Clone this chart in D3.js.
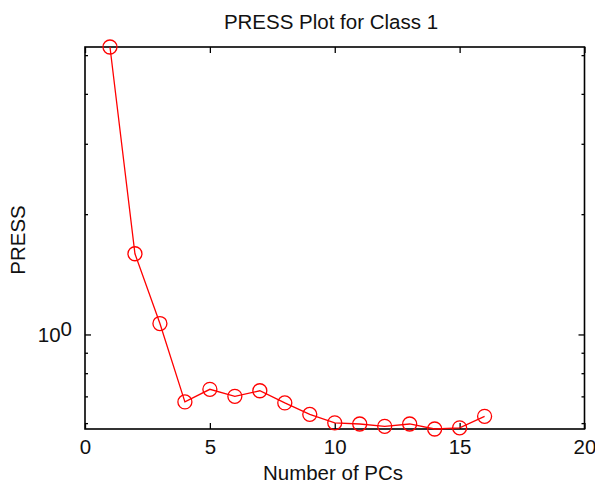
<!DOCTYPE html>
<html>
<head>
<meta charset="utf-8">
<script src="https://cdn.jsdelivr.net/npm/d3@7"></script>
<style>
  html, body { margin: 0; padding: 0; background: #fff; }
  svg { display: block; }
  text { font-family: "Liberation Sans", Arial, sans-serif; fill: #111; }
</style>
</head>
<body>
<svg id="chart" width="595" height="488"></svg>
<script>
// Data
const numPCs = [1, 2, 3, 4, 5, 6, 7, 8, 9, 10, 11, 12, 13, 14, 15, 16];
const pressValues = [5.24, 1.592, 1.065, 0.678, 0.729, 0.700, 0.723, 0.674, 0.631, 0.601, 0.597, 0.589, 0.597, 0.580, 0.584, 0.624];
const xTickValues = [0, 5, 10, 15, 20];
const yMajorTicks = [1];
const yMinorTicks = [0.6, 0.7, 0.8, 0.9, 2, 3, 4, 5];
const titleText = "PRESS Plot for Class 1";
const xLabelText = "Number of PCs";
const yLabelText = "PRESS";

const svg = d3.select("#chart");
const L = 85, R = 584.5, T = 47, B = 429;

const x = d3.scaleLinear().domain([0, 20]).range([L, R]);
const y = d3.scaleLog().domain(d3.extent(pressValues)).range([B, T]);

const fontSize = 20.5;

// Axes
svg.append("g").attr("transform", `translate(0,${B})`)
  .call(d3.axisBottom(x).tickValues(xTickValues).tickSizeInner(-6).tickSizeOuter(0).tickPadding(10).tickFormat(d3.format("d")));
svg.append("g").attr("transform", `translate(0,${T})`)
  .call(d3.axisTop(x).tickValues(xTickValues).tickSizeInner(-6).tickSizeOuter(0).tickFormat(""));

svg.append("g").attr("transform", `translate(${L},0)`)
  .call(d3.axisLeft(y).tickValues(yMinorTicks).tickSizeInner(-3).tickSizeOuter(0).tickFormat(""));
svg.append("g").attr("transform", `translate(${R},0)`)
  .call(d3.axisRight(y).tickValues(yMinorTicks).tickSizeInner(-3).tickSizeOuter(0).tickFormat(""));
svg.append("g").attr("transform", `translate(${R},0)`)
  .call(d3.axisRight(y).tickValues(yMajorTicks).tickSizeInner(-6).tickSizeOuter(0).tickFormat(""));
const gyMajor = svg.append("g").attr("transform", `translate(${L},0)`)
  .call(d3.axisLeft(y).tickValues(yMajorTicks).tickSizeInner(-6).tickSizeOuter(0).tickPadding(13).tickFormat(""));

gyMajor.selectAll(".tick text").each(function(d) {
  const t = d3.select(this);
  t.text(null).attr("dy", "0.36em");
  t.append("tspan").text("10");
  t.append("tspan").attr("dy", -6).text(Math.round(Math.log10(d)));
});

svg.selectAll(".domain").remove();
svg.selectAll(".tick line").attr("stroke", "#000").attr("stroke-width", 1.3);
svg.selectAll(".tick text").attr("font-size", fontSize).attr("font-family", "Liberation Sans, Arial, sans-serif").attr("fill", "#111");

// Frame
svg.append("rect").attr("x", L).attr("y", T).attr("width", R - L).attr("height", B - T)
  .attr("fill", "none").attr("stroke", "#000").attr("stroke-width", 1.6);

// Line + markers
const data = numPCs.map((n, i) => ({ n, v: pressValues[i] }));
svg.append("path").datum(data)
  .attr("fill", "none").attr("stroke", "#ff0000").attr("stroke-width", 1.3)
  .attr("d", d3.line().x(d => x(d.n)).y(d => y(d.v)));
svg.selectAll("circle.pt").data(data).join("circle").attr("class", "pt")
  .attr("cx", d => x(d.n)).attr("cy", d => y(d.v)).attr("r", 7)
  .attr("fill", "none").attr("stroke", "#ff0000").attr("stroke-width", 1.3);

// Labels
svg.append("text").attr("x", 331).attr("y", 29).attr("text-anchor", "middle")
  .attr("font-size", fontSize).text(titleText);
svg.append("text").attr("x", 333).attr("y", 480).attr("text-anchor", "middle")
  .attr("font-size", fontSize).text(xLabelText);
svg.append("text").attr("transform", "translate(25,240) rotate(-90)").attr("text-anchor", "middle")
  .attr("font-size", fontSize).text(yLabelText);
</script>
</body>
</html>
